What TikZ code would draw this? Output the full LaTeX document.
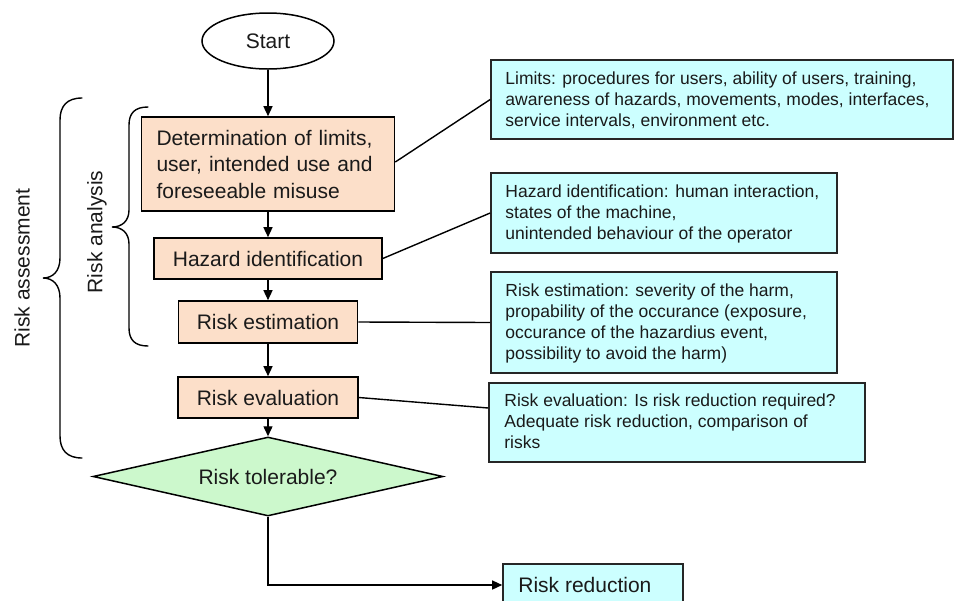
\documentclass[tikz,border=0pt]{standalone}
\usepackage{fontspec}
\setmainfont{Liberation Sans}
\usetikzlibrary{arrows.meta,shapes.geometric,calc}
\definecolor{peach}{HTML}{FCDFC9}
\definecolor{lcyan}{HTML}{CCFFFF}
\definecolor{lgreen}{HTML}{CCF8CC}
\definecolor{ink}{HTML}{1A1A1A}
\begin{document}
\begin{tikzpicture}[x=1pt,y=-1pt,
  mainbox/.style={draw=black, fill=peach, line width=1.6pt, inner sep=0pt, text=ink, font=\fontsize{21}{26.5}\selectfont},
  sidebox/.style={draw=black!85, fill=lcyan, line width=1.6pt, inner sep=0pt},
  sidetext/.style={anchor=west, align=left, inner sep=0pt, text=ink, font=\fontsize{17.5}{21.2}\selectfont},
  arr/.style={-{Triangle[length=10pt,width=9pt]}, line width=1.4pt},
  link/.style={line width=1.4pt},
  bracestyle/.style={line width=1.4pt, line cap=round}]
\useasboundingbox (0,0) rectangle (955,600);

% main flow
\node[draw, ellipse, minimum width=132pt, minimum height=56pt, inner sep=0pt, line width=1.5pt, text=ink, font=\fontsize{21}{25}\selectfont] (start) at (268,41) {Start};
\node[mainbox, minimum width=253pt, minimum height=94pt, text width=223pt, align=left] (det) at (268,164) {Determination of limits,\\user, intended use and\\foreseeable misuse};
\node[mainbox, minimum width=228pt, minimum height=41pt] (haz) at (268,258.5) {Hazard identification};
\node[mainbox, minimum width=179pt, minimum height=42pt] (est) at (268,322) {Risk estimation};
\node[mainbox, minimum width=180pt, minimum height=41pt] (eval) at (268,397.5) {Risk evaluation};
\node[draw, diamond, fill=lgreen, minimum width=350pt, minimum height=79pt, aspect=4.43, inner sep=0pt, line width=1.5pt, text=ink, font=\fontsize{21}{25}\selectfont] (tol) at (268,476.5) {Risk tolerable?};
\node[sidebox, minimum width=180pt, minimum height=42pt] (red) at (593,585) {};
\node[sidetext, font=\fontsize{21}{25}\selectfont] (redt) at ($(red.west)+(16,0)$) {Risk reduction};

% side boxes
\node[sidebox, minimum width=462pt, minimum height=79pt] (lim) at (722,99.5) {};
\node[sidetext] (limt) at ($(lim.west)+(15,1)$) {Limits: procedures for users, ability of users, training,\\awareness of hazards, movements, modes, interfaces,\\service intervals, environment etc.};
\node[sidebox, minimum width=346pt, minimum height=80pt] (hzd) at (664,213) {};
\node[sidetext] (hzdt) at ($(hzd.west)+(15,1)$) {Hazard identification: human interaction,\\states of the machine,\\unintended behaviour of the operator};
\node[sidebox, minimum width=346pt, minimum height=101pt] (rest) at (664,322.5) {};
\node[sidetext] (restt) at ($(rest.west)+(15,1)$) {Risk estimation: severity of the harm,\\propability of the occurance (exposure,\\occurance of the hazardius event,\\possibility to avoid the harm)};
\node[sidebox, minimum width=376pt, minimum height=79pt] (revl) at (677,422.5) {};
\node[sidetext] (revlt) at ($(revl.west)+(16,-1)$) {Risk evaluation: Is risk reduction required?\\Adequate risk reduction, comparison of\\risks};

% arrows
\draw[arr] (start) -- (det);
\draw[arr] (det) -- (haz);
\draw[arr] (haz) -- (est);
\draw[arr] (est) -- (eval);
\draw[arr] (eval) -- (tol);
\draw[arr] (tol.south) |- (red.west);

% links to explanation boxes
\draw[link] ($(det.east)+(0,-2)$) -- (lim.west);
\draw[link] (haz.east) -- (hzd.west);
\draw[link] (est.east) -- (rest.west);
\draw[link] (eval.east) -- ($(revl.west)+(0,-14.5)$);

% braces
\draw[bracestyle] (82,98) .. controls (67,98) and (60,106) .. (60,120) -- (60,258) .. controls (60,271) and (53,278) .. (43,278) .. controls (53,278) and (60,285) .. (60,298) -- (60,436) .. controls (60,450) and (67,458) .. (82,458);
\draw[bracestyle] (148,107) .. controls (135,107) and (129,113) .. (129,125) -- (129,210) .. controls (129,221) and (122,227) .. (112,227) .. controls (122,227) and (129,233) .. (129,244) -- (129,328) .. controls (129,340) and (135,346) .. (148,346);
\node[rotate=90, text=ink, font=\fontsize{21}{25}\selectfont] (ra) at (22,268) {Risk assessment};
\node[rotate=90, text=ink, font=\fontsize{21}{25}\selectfont] (ran) at (97,232) {Risk analysis};
\end{tikzpicture}
\end{document}
